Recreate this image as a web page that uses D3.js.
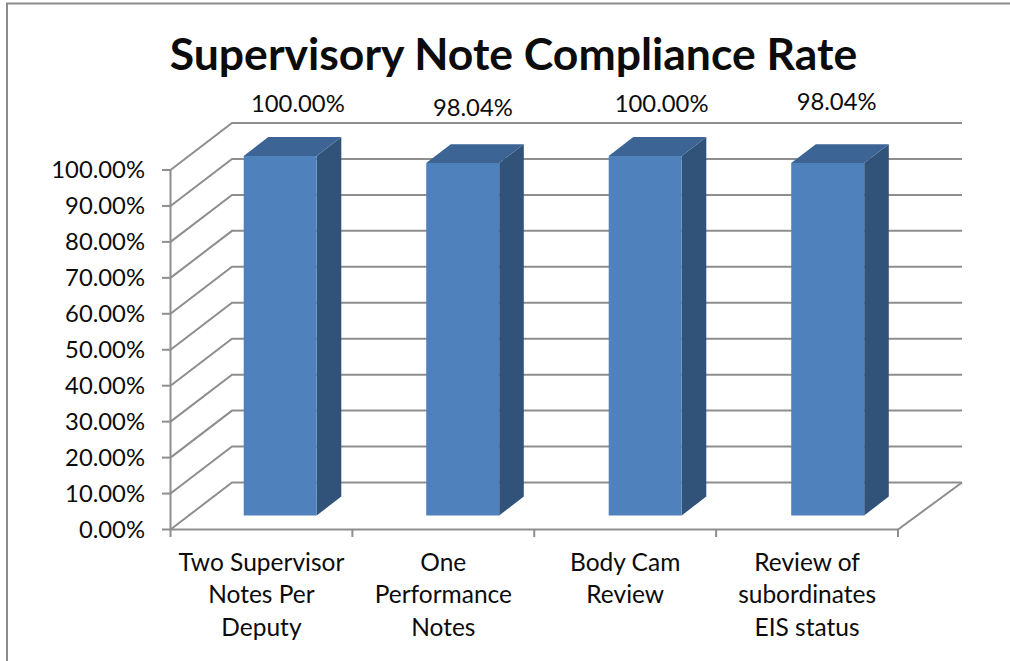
<!DOCTYPE html>
<html>
<head>
<meta charset="utf-8">
<script src="https://cdn.jsdelivr.net/npm/d3@7"></script>
<style>
  html, body { margin: 0; padding: 0; background: #fff; }
  text { font-family: Lato, "Open Sans", sans-serif; fill: #0c0c0c; }
</style>
</head>
<body>
<div id="viz"></div>
<script>
let categories = [
  ["Two Supervisor", "Notes Per", "Deputy"],
  ["One", "Performance", "Notes"],
  ["Body Cam", "Review"],
  ["Review of", "subordinates", "EIS status"]
];
let values = [1, 0.9804, 1, 0.9804];
let valueLabels = ["100.00%", "98.04%", "100.00%", "98.04%"];
let yTicks = [0, 0.1, 0.2, 0.3, 0.4, 0.5, 0.6, 0.7, 0.8, 0.9, 1];
let chartTitle = "Supervisory Note Compliance Rate";

let svgWidth = 1010;
let svgHeight = 661;
let depthX = 61.5;
let depthY = 47;
let gridColor = "#8e8e8e";

let svg = d3.select("#viz").append("svg")
  .attr("width", svgWidth)
  .attr("height", svgHeight)
  .style("display", "block");

// front plane of the 3d box
let xScale = d3.scaleBand().domain(d3.range(categories.length)).range([170.5, 898]);
// the bars sit on a slightly wider step than the axis ticks
let barScale = d3.scaleBand().domain(d3.range(categories.length)).range([170.5, 900.5]);
let yScale = d3.scaleLinear().domain([0, 1]).range([529.5, 170]);
let fmt = d3.format(".2%");

let x0 = xScale.range()[0];
let x1 = xScale.range()[1];
let backRight = 962;

// push a point back into the box, d goes 0 (front) to 1 (back)
function project(x, v, d) {
  return [x + d * depthX, yScale(v) - d * depthY];
}
function poly(points) {
  return "M" + points.join("L") + "Z";
}

// chart frame
svg.append("path")
  .attr("d", "M7,661V3.5H1010")
  .attr("fill", "none")
  .attr("stroke", "#8c8c8c")
  .attr("stroke-width", 2);

svg.append("text")
  .attr("x", 513.5)
  .attr("y", 70)
  .attr("text-anchor", "middle")
  .attr("font-size", 44.5)
  .attr("font-weight", 700)
  .text(chartTitle);

// walls
let grid = svg.append("g")
  .attr("fill", "none")
  .attr("stroke", gridColor)
  .attr("stroke-width", 2);

grid.selectAll("path.wall").data(yTicks).enter().append("path")
  .attr("class", "wall")
  .attr("d", v => "M" + [[x0, yScale(v)], project(x0, v, 1), [backRight, yScale(v) - depthY]].join("L"));

// floor front edge and its right side
grid.append("path")
  .attr("d", "M" + [[x0, yScale(0)], [x1, yScale(0)], [backRight, yScale(0) - depthY]].join("L"));

// value axis
grid.append("path").attr("d", "M" + [x0, yScale(1)] + "L" + [x0, yScale(0)]);
grid.selectAll("line.ytick").data(yTicks).enter().append("line")
  .attr("class", "ytick")
  .attr("x1", 162).attr("x2", x0)
  .attr("y1", d => yScale(d)).attr("y2", d => yScale(d));

// category axis ticks
grid.selectAll("line.xtick").data(d3.range(categories.length + 1)).enter().append("line")
  .attr("class", "xtick")
  .attr("x1", d => x0 + d * xScale.step())
  .attr("x2", d => x0 + d * xScale.step())
  .attr("y1", yScale(0)).attr("y2", 537);

svg.append("g").selectAll("text").data(yTicks).enter().append("text")
  .attr("x", 145)
  .attr("y", d => yScale(d) + 8)
  .attr("text-anchor", "end")
  .attr("font-size", 23.8)
  .text(d => fmt(d));

// bars
let near = 0.3, far = 0.7;
let barWidth = barScale.step() * 0.4;
let bars = svg.append("g").selectAll("g").data(values).enter().append("g");

function barLeft(i) {
  return barScale(i) + (barScale.step() - barWidth) / 2;
}

// right side
bars.append("path").attr("fill", "#325379")
  .attr("d", (v, i) => {
    let x = barLeft(i) + barWidth;
    return poly([project(x, 0, near), project(x, 0, far), project(x, v, far), project(x, v, near)]);
  });
// top
bars.append("path").attr("fill", "#3c6494")
  .attr("d", (v, i) => {
    let x = barLeft(i);
    return poly([project(x, v, near), project(x, v, far), project(x + barWidth, v, far), project(x + barWidth, v, near)]);
  });
// front
bars.append("path").attr("fill", "#4f81bd")
  .attr("d", (v, i) => {
    let x = barLeft(i);
    return poly([project(x, 0, near), project(x + barWidth, 0, near), project(x + barWidth, v, near), project(x, v, near)]);
  });

// value labels float above the box, each one nudged a little
let labelNudge = [0, 4, 0, -2];
svg.append("g").selectAll("text").data(valueLabels).enter().append("text")
  .attr("x", (d, i) => xScale(i) + 80.5)
  .attr("y", (d, i) => yScale(1) - 58 + labelNudge[i])
  .attr("font-size", 23.8)
  .text(d => d);

// category labels
let catGroups = svg.append("g").selectAll("text").data(categories).enter().append("text")
  .attr("text-anchor", "middle")
  .attr("font-size", 24.5);
catGroups.selectAll("tspan").data((d, i) => d.map(s => ({ s: s, i: i }))).enter().append("tspan")
  .attr("x", d => xScale(d.i) + xScale.step() / 2)
  .attr("y", (d, j) => 570.5 + j * 32.5)
  .text(d => d.s);
</script>
</body>
</html>
